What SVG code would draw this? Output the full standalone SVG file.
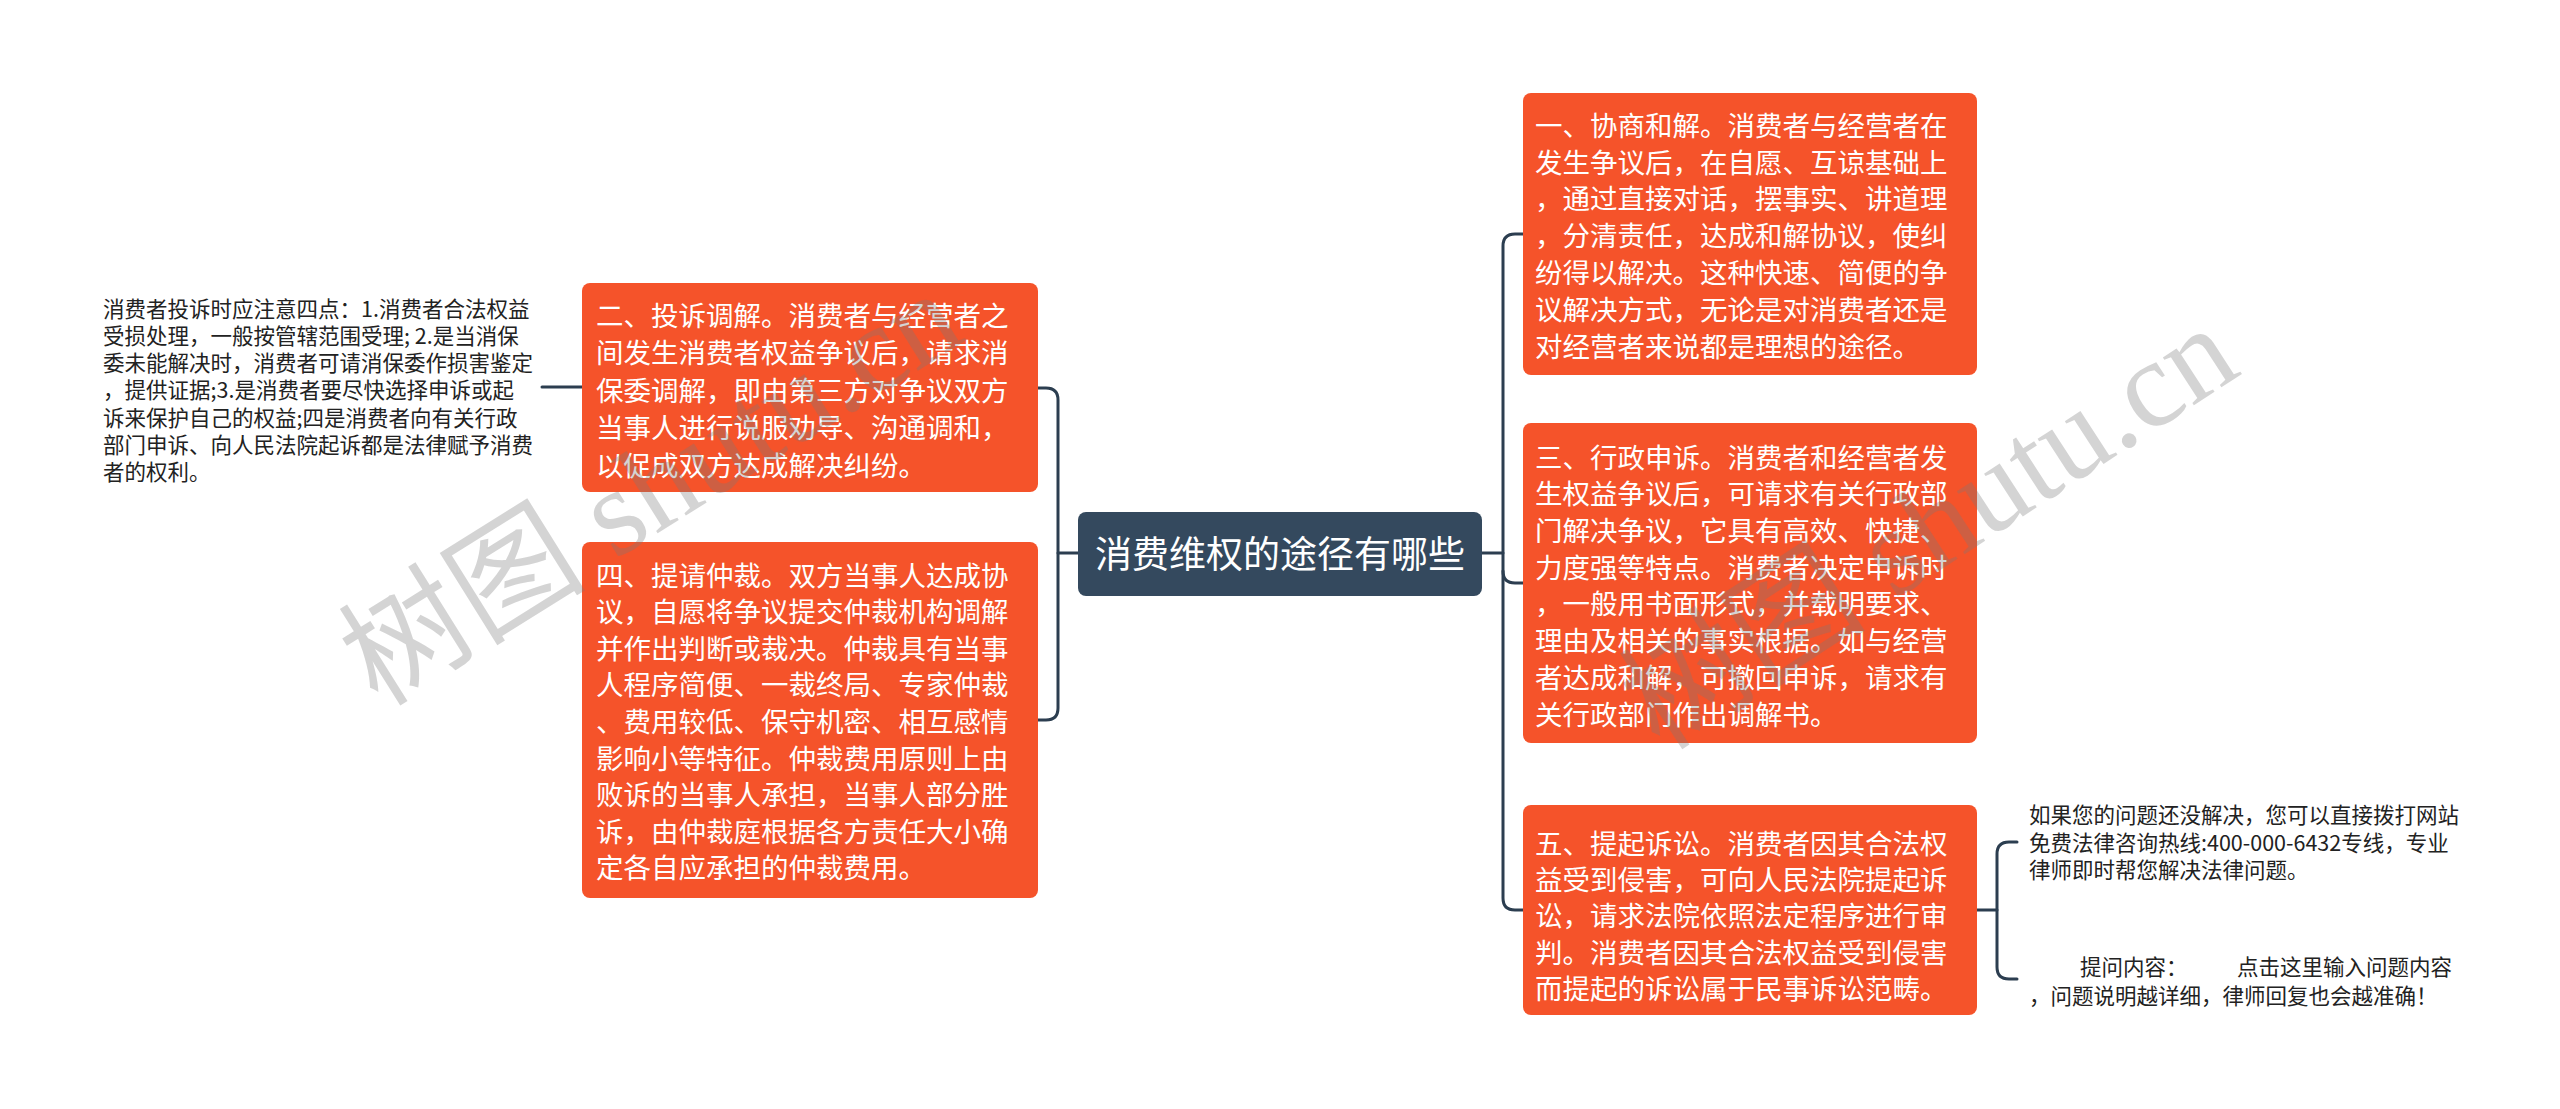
<svg xmlns="http://www.w3.org/2000/svg" width="2560" height="1109" viewBox="0 0 2560 1109">
<style>
.bg{fill:#ffffff}
.topic{fill:#f5532a}
.central{fill:#34495e}
.t{font-family:"Noto Sans CJK SC","Noto Sans",sans-serif;font-size:27.5px;fill:#ffffff}
.ct{font-family:"Noto Sans CJK SC","Noto Sans",sans-serif;font-size:37px;fill:#ffffff}
.leaf{font-family:"Noto Sans CJK SC","Noto Sans",sans-serif;font-size:21.5px;fill:#222222}
.conn{fill:none;stroke:#2c3e50;stroke-width:3;stroke-linecap:round}
.wm{font-family:"Liberation Serif","Noto Sans CJK SC",serif;font-size:124px;fill:#7a7a7a;fill-opacity:0.32}
</style>
<rect class="bg" x="0" y="0" width="2560" height="1109"/>

<g id="connectors">
  <path class="conn" d="M542,387 H582"/>
  <path class="conn" d="M1078,553 H1058"/>
  <path class="conn" d="M1038,388 H1046 Q1058,388 1058,400 V708 Q1058,720 1046,720 H1038"/>
  <path class="conn" d="M1482,553 H1503"/>
  <path class="conn" d="M1523,234 H1515 Q1503,234 1503,246 V898 Q1503,910 1515,910 H1523"/>
  <path class="conn" d="M1503,571 Q1503,583 1515,583 H1523"/>
  <path class="conn" d="M1977,910 H1997"/>
  <path class="conn" d="M2017,842 H2009 Q1997,842 1997,854 V967 Q1997,979 2009,979 H2017"/>
</g>

<g id="node-central">
  <rect class="central" x="1078" y="512" width="404" height="84" rx="8"/>
  <text class="ct" x="1280" y="568" text-anchor="middle">消费维权的途径有哪些</text>
</g>

<g id="node-2">
  <rect class="topic" x="582" y="283" width="456" height="209" rx="8"/>
  <text class="t">
    <tspan x="596" y="325.6">二、投诉调解。消费者与经营者之</tspan>
    <tspan x="596" y="363.1">间发生消费者权益争议后，请求消</tspan>
    <tspan x="596" y="400.6">保委调解，即由第三方对争议双方</tspan>
    <tspan x="596" y="438.1">当事人进行说服劝导、沟通调和，</tspan>
    <tspan x="596" y="475.6">以促成双方达成解决纠纷。</tspan>
  </text>
</g>

<g id="node-4">
  <rect class="topic" x="582" y="542" width="456" height="356" rx="8"/>
  <text class="t">
    <tspan x="596" y="585.6">四、提请仲裁。双方当事人达成协</tspan>
    <tspan x="596" y="622.2">议，自愿将争议提交仲裁机构调解</tspan>
    <tspan x="596" y="658.8">并作出判断或裁决。仲裁具有当事</tspan>
    <tspan x="596" y="695.4">人程序简便、一裁终局、专家仲裁</tspan>
    <tspan x="596" y="732">、费用较低、保守机密、相互感情</tspan>
    <tspan x="596" y="768.6">影响小等特征。仲裁费用原则上由</tspan>
    <tspan x="596" y="805.2">败诉的当事人承担，当事人部分胜</tspan>
    <tspan x="596" y="841.8">诉，由仲裁庭根据各方责任大小确</tspan>
    <tspan x="596" y="878.4">定各自应承担的仲裁费用。</tspan>
  </text>
</g>

<g id="node-1">
  <rect class="topic" x="1523" y="93" width="454" height="282" rx="8"/>
  <text class="t">
    <tspan x="1535" y="135.6">一、协商和解。消费者与经营者在</tspan>
    <tspan x="1535" y="172.5">发生争议后，在自愿、互谅基础上</tspan>
    <tspan x="1535" y="209.4">，通过直接对话，摆事实、讲道理</tspan>
    <tspan x="1535" y="246.3">，分清责任，达成和解协议，使纠</tspan>
    <tspan x="1535" y="283.2">纷得以解决。这种快速、简便的争</tspan>
    <tspan x="1535" y="320.1">议解决方式，无论是对消费者还是</tspan>
    <tspan x="1535" y="357">对经营者来说都是理想的途径。</tspan>
  </text>
</g>

<g id="node-3">
  <rect class="topic" x="1523" y="423" width="454" height="320" rx="8"/>
  <text class="t">
    <tspan x="1535" y="467.6">三、行政申诉。消费者和经营者发</tspan>
    <tspan x="1535" y="504.3">生权益争议后，可请求有关行政部</tspan>
    <tspan x="1535" y="541">门解决争议，它具有高效、快捷、</tspan>
    <tspan x="1535" y="577.7">力度强等特点。消费者决定申诉时</tspan>
    <tspan x="1535" y="614.4">，一般用书面形式，并载明要求、</tspan>
    <tspan x="1535" y="651.1">理由及相关的事实根据。如与经营</tspan>
    <tspan x="1535" y="687.8">者达成和解，可撤回申诉，请求有</tspan>
    <tspan x="1535" y="724.5">关行政部门作出调解书。</tspan>
  </text>
</g>

<g id="node-5">
  <rect class="topic" x="1523" y="805" width="454" height="210" rx="8"/>
  <text class="t">
    <tspan x="1535" y="853.6">五、提起诉讼。消费者因其合法权</tspan>
    <tspan x="1535" y="889.9">益受到侵害，可向人民法院提起诉</tspan>
    <tspan x="1535" y="926.2">讼，请求法院依照法定程序进行审</tspan>
    <tspan x="1535" y="962.5">判。消费者因其合法权益受到侵害</tspan>
    <tspan x="1535" y="998.8">而提起的诉讼属于民事诉讼范畴。</tspan>
  </text>
</g>

<g id="leaf-notes">
  <text class="leaf">
    <tspan x="103" y="316.5">消费者投诉时应注意四点：1.消费者合法权益</tspan>
    <tspan x="103" y="343.8">受损处理，一般按管辖范围受理; 2.是当消保</tspan>
    <tspan x="103" y="371.1">委未能解决时，消费者可请消保委作损害鉴定</tspan>
    <tspan x="103" y="398.4">，提供证据;3.是消费者要尽快选择申诉或起</tspan>
    <tspan x="103" y="425.7">诉来保护自己的权益;四是消费者向有关行政</tspan>
    <tspan x="103" y="453">部门申诉、向人民法院起诉都是法律赋予消费</tspan>
    <tspan x="103" y="480.3">者的权利。</tspan>
  </text>
</g>

<g id="leaf-hotline">
  <text class="leaf">
    <tspan x="2029" y="823">如果您的问题还没解决，您可以直接拨打网站</tspan>
    <tspan x="2029" y="850.5">免费法律咨询热线:400-000-6432专线，专业</tspan>
    <tspan x="2029" y="878">律师即时帮您解决法律问题。</tspan>
  </text>
</g>

<g id="leaf-question">
  <text class="leaf">
    <tspan x="2080" y="975">提问内容：</tspan>
    <tspan x="2237" y="975">点击这里输入问题内容</tspan>
    <tspan x="2029" y="1004">，问题说明越详细，律师回复也会越准确！</tspan>
  </text>
</g>

<g id="watermark">
  <text class="wm" transform="translate(378,708) rotate(-32)">树图 shutu.cn</text>
  <text class="wm" transform="translate(1660,752) rotate(-33)">树图 shutu.cn</text>
</g>
</svg>
